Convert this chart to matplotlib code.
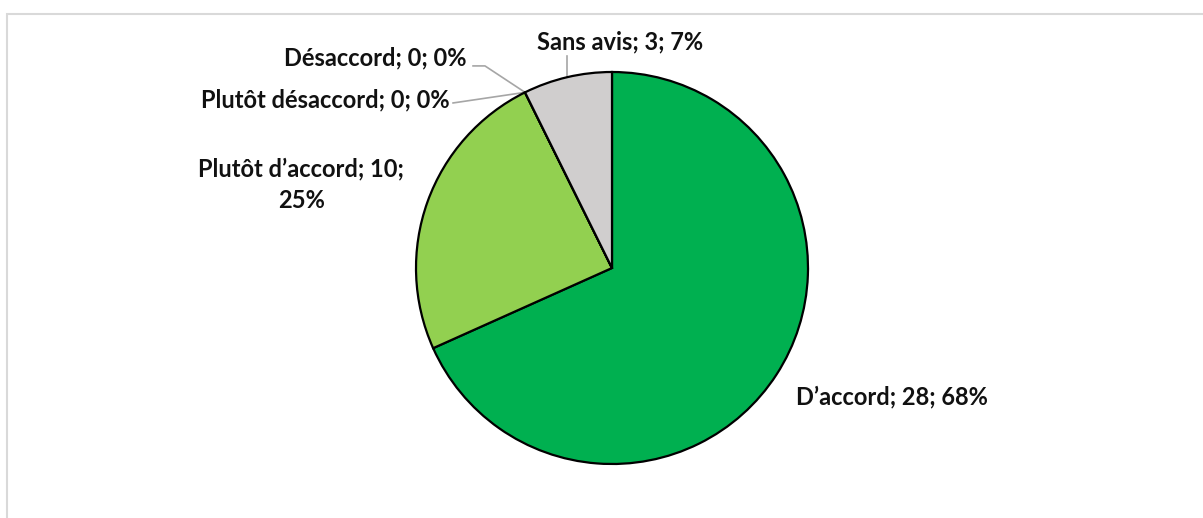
import numpy as np
import matplotlib.pyplot as plt
from matplotlib.patches import Rectangle

# Réponses au questionnaire
categories = ["D\u2019accord", "Plut\u00f4t d\u2019accord", "Plut\u00f4t d\u00e9saccord",
              "D\u00e9saccord", "Sans avis"]
counts = [28, 10, 0, 0, 3]
percents = [68, 25, 0, 0, 7]
colors = ["#00B050", "#92D050", "#FF9999", "#FF0000", "#D0CECE"]

W, H, DPI = 1203, 518, 100
CX, CY, R = 612, 268, 196  # centre et rayon du camembert en pixels

plt.rcParams["font.family"] = ["Lato", "DejaVu Sans"]

fig = plt.figure(figsize=(W / DPI, H / DPI), dpi=DPI)
ax = fig.add_axes([0, 0, 1, 1])

# cadre gris de la zone de graphique
fig.patches.append(Rectangle((7 / W, -0.05), 1.1, 1 - 14 / H + 0.05,
                             transform=fig.transFigure, fill=False,
                             edgecolor="#D9D9D9", linewidth=1.5))

wedges, _ = ax.pie(counts, colors=colors, startangle=90, counterclock=False,
                   radius=1, center=(0, 0), frame=True,
                   wedgeprops=dict(edgecolor="black", linewidth=1.6))
ax.set_xlim(-CX / R, (W - CX) / R)
ax.set_ylim(-(H - CY) / R, CY / R)
ax.set_aspect("auto")
ax.axis("off")

labels = [f"{c}; {n}; {p}%" for c, n, p in zip(categories, counts, percents)]
labels[1] = f"{categories[1]}; {counts[1]};\n{percents[1]}%"

# position des étiquettes (unités du rayon)
label_pos = [(1.429, -0.658), (-1.585, 0.425), (-1.464, 0.857),
             (-1.209, 1.071), (0.04, 1.153)]
# points de coude des lignes de repère (None = pas de ligne)
leader = [None, None, [(-0.811, 0.842)],
          [(-0.648, 1.031), (-0.709, 1.031)], "vertical"]

total = sum(counts)
start = 0.0
for i, (lab, (lx, ly)) in enumerate(zip(labels, label_pos)):
    frac = counts[i] / total
    mid = np.deg2rad(360 * (start + frac / 2))
    start += frac
    ex, ey = np.sin(mid), np.cos(mid)
    ax.text(lx, ly, lab, ha="center", va="center", fontsize=17,
            fontweight="bold", color="#111111", linespacing=1.45)
    if leader[i] is None:
        continue
    if leader[i] == "vertical":
        xs, ys = [ex, ex], [ey, 1.082]
    else:
        xs = [ex] + [p[0] for p in leader[i]]
        ys = [ey] + [p[1] for p in leader[i]]
    ax.plot(xs, ys, color="#A6A6A6", linewidth=1.2, zorder=0.5)

fig.savefig("out.png", dpi=DPI, facecolor="white")
